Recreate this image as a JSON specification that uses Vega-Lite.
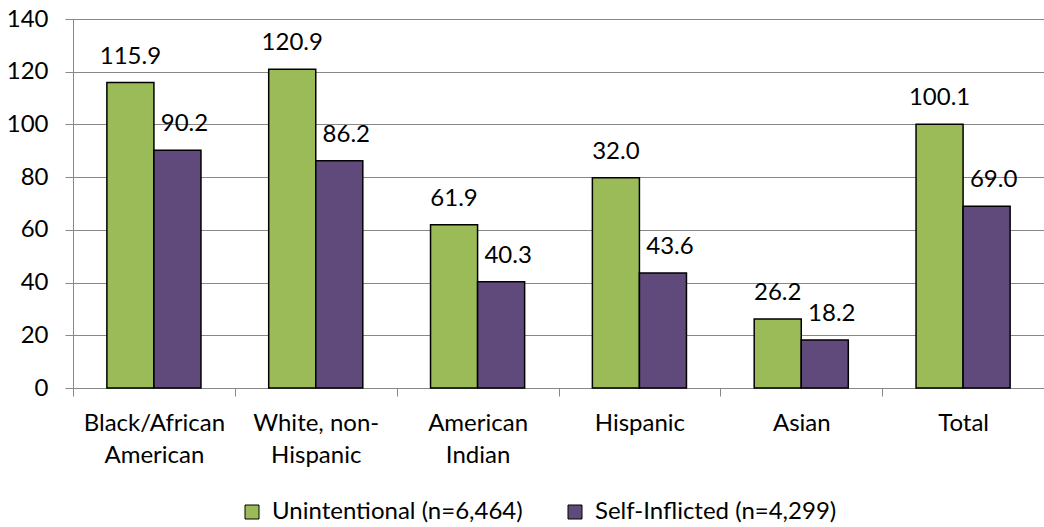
{
  "$schema": "https://vega.github.io/schema/vega-lite/v6.json",
  "width": 971,
  "height": 369,
  "autosize": {"type": "none"},
  "padding": {"left": 73, "top": 19, "right": 0, "bottom": 139},
  "background": "white",
  "config": {"view": {"stroke": null}, "font": "Lato"},
  "data": {"values": [
    {"group": "Black/African American", "series": "Unintentional (n=6,464)", "value": 115.9, "label": "115.9"},
    {"group": "Black/African American", "series": "Self-Inflicted (n=4,299)", "value": 90.2, "label": "90.2"},
    {"group": "White, non-Hispanic", "series": "Unintentional (n=6,464)", "value": 120.9, "label": "120.9"},
    {"group": "White, non-Hispanic", "series": "Self-Inflicted (n=4,299)", "value": 86.2, "label": "86.2"},
    {"group": "American Indian", "series": "Unintentional (n=6,464)", "value": 61.9, "label": "61.9"},
    {"group": "American Indian", "series": "Self-Inflicted (n=4,299)", "value": 40.3, "label": "40.3"},
    {"group": "Hispanic", "series": "Unintentional (n=6,464)", "value": 79.8, "label": "32.0"},
    {"group": "Hispanic", "series": "Self-Inflicted (n=4,299)", "value": 43.6, "label": "43.6"},
    {"group": "Asian", "series": "Unintentional (n=6,464)", "value": 26.2, "label": "26.2"},
    {"group": "Asian", "series": "Self-Inflicted (n=4,299)", "value": 18.2, "label": "18.2"},
    {"group": "Total", "series": "Unintentional (n=6,464)", "value": 100.1, "label": "100.1"},
    {"group": "Total", "series": "Self-Inflicted (n=4,299)", "value": 69.0, "label": "69.0"}
  ]},
  "encoding": {
    "x": {
      "field": "group", "type": "nominal", "sort": null,
      "scale": {"paddingInner": 0, "paddingOuter": 0},
      "axis": {
        "title": null, "labelAngle": 0, "tickBand": "extent", "tickSize": 8,
        "labelPadding": 15, "labelFontSize": 24, "labelLineHeight": 32,
        "labelColor": "black", "domainColor": "#888888", "tickColor": "#888888",
        "grid": false, "labelOverlap": false, "labelLimit": 300,
        "labelExpr": "!isValid(datum.value) ? '' : datum.value == 'White, non-Hispanic' ? ['White, non-', 'Hispanic'] : split(datum.value, ' ')"
      }
    },
    "xOffset": {
      "field": "series", "type": "nominal",
      "scale": {"domain": ["Unintentional (n=6,464)", "Self-Inflicted (n=4,299)"], "paddingInner": 0, "paddingOuter": 0.72}
    },
    "y": {
      "field": "value", "type": "quantitative",
      "scale": {"domain": [0, 140], "nice": false},
      "axis": {
        "title": null, "values": [0, 20, 40, 60, 80, 100, 120, 140],
        "tickSize": 8, "labelPadding": 17, "labelFontSize": 24, "labelColor": "black",
        "grid": true, "gridColor": "#888888", "domainColor": "#888888", "tickColor": "#888888"
      }
    }
  },
  "layer": [
    {
      "mark": {"type": "bar", "stroke": "black", "strokeWidth": 1.5},
      "encoding": {
        "color": {
          "field": "series", "type": "nominal",
          "scale": {"domain": ["Unintentional (n=6,464)", "Self-Inflicted (n=4,299)"], "range": ["#9BBB59", "#604A7B"]},
          "legend": {
            "orient": "none", "legendX": 167, "legendY": 481, "direction": "horizontal",
            "title": null, "labelFontSize": 24, "labelColor": "black", "labelLimit": 400,
            "symbolType": "square", "symbolSize": 196, "symbolStrokeColor": "black", "symbolStrokeWidth": 1,
            "labelOffset": 8, "columnPadding": 40, "padding": 0
          }
        }
      }
    },
    {
      "transform": [{"filter": "datum.series == 'Unintentional (n=6,464)'"}],
      "mark": {"type": "text", "dy": -19, "baseline": "alphabetic", "fontSize": 24, "color": "black"},
      "encoding": {"text": {"field": "label"}}
    },
    {
      "transform": [{"filter": "datum.series == 'Self-Inflicted (n=4,299)'"}],
      "mark": {"type": "text", "dy": -19, "dx": 7, "baseline": "alphabetic", "fontSize": 24, "color": "black"},
      "encoding": {"text": {"field": "label"}}
    }
  ]
}
